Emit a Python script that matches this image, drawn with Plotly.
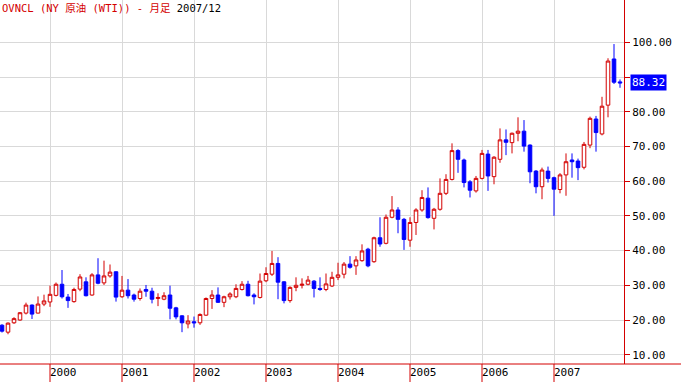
import plotly.graph_objects as go

# Monthly candles, May 1999 .. Dec 2007
months = [f"{y}-{m:02d}" for y in range(1999, 2008) for m in range(1, 13)][4:]

opens = [18.5, 16.5, 19.2, 20.0, 22.0, 24.3, 22.0, 24.6,
         25.2, 27.1, 30.3, 26.6, 25.3, 28.9, 31.0, 27.2, 33.0, 30.7, 32.7, 33.9,
         26.7, 28.6, 27.2, 26.2, 28.8, 28.3, 26.2, 26.0, 27.2, 23.5, 21.2, 18.9,
         19.5, 19.2, 21.4, 26.2, 27.2, 25.1, 26.7, 26.7, 28.8, 30.3, 27.2, 26.5,
         31.3, 33.2, 36.3, 31.0, 25.6, 29.4, 30.0, 30.3, 31.2, 29.1, 28.8, 29.8,
         32.3, 33.2, 36.1, 35.6, 37.1, 40.4, 36.8, 43.7, 42.1, 49.6, 51.7, 49.0,
         43.0, 48.1, 51.7, 55.1, 49.3, 51.9, 56.5, 60.5, 68.8, 66.1, 59.8, 57.2,
         60.8, 67.8, 61.3, 66.3, 71.9, 71.1, 73.8, 74.4, 70.4, 62.9, 58.4, 62.9,
         61.0, 57.6, 61.8, 66.1, 65.8, 64.0, 70.4, 77.9, 73.6, 81.9, 95.2, 88.6]

closes = [16.8, 19.1, 20.4, 22.1, 24.3, 21.7, 24.6, 25.5,
          27.4, 30.3, 26.7, 25.6, 28.8, 32.4, 27.0, 33.0, 30.6, 32.7, 33.8, 26.6,
          28.6, 27.0, 26.0, 28.3, 28.3, 26.0, 26.5, 27.0, 23.4, 20.9, 19.2, 19.7,
          19.2, 21.6, 26.2, 27.2, 25.1, 26.7, 27.5, 29.1, 30.3, 27.0, 26.7, 31.2,
          33.4, 36.3, 30.9, 25.6, 29.4, 30.0, 30.3, 31.5, 29.1, 28.8, 30.4, 32.3,
          33.0, 36.1, 35.2, 37.3, 39.9, 35.6, 43.7, 41.9, 49.6, 51.7, 49.0, 43.2,
          48.1, 51.7, 55.3, 49.5, 51.9, 56.5, 60.5, 68.8, 66.3, 59.6, 57.4, 60.8,
          68.0, 61.5, 66.9, 71.9, 71.2, 73.8, 74.4, 70.1, 62.7, 58.4, 63.2, 60.8,
          57.7, 61.8, 65.6, 65.6, 63.9, 70.6, 78.1, 74.0, 81.6, 94.6, 88.5, 88.32]

highs = [18.8, 19.3, 20.8, 22.3, 25.0, 24.5, 26.8, 27.3,
         29.9, 30.8, 34.4, 27.5, 29.3, 33.2, 32.3, 33.5, 37.8, 37.1, 36.0, 34.0,
         32.7, 31.8, 27.6, 29.1, 30.1, 29.3, 27.7, 28.0, 29.9, 23.8, 21.4, 21.4,
         21.0, 21.9, 26.5, 28.6, 29.4, 27.0, 28.0, 30.3, 31.2, 31.3, 27.7, 33.4,
         35.2, 39.9, 38.1, 31.2, 29.7, 32.3, 32.0, 32.7, 31.5, 32.3, 33.4, 33.9,
         36.5, 36.7, 38.4, 38.4, 41.8, 40.8, 44.0, 49.6, 50.4, 55.7, 52.5, 49.4,
         49.6, 52.2, 57.4, 58.2, 52.3, 60.8, 62.0, 70.9, 69.2, 66.5, 60.3, 61.5,
         69.0, 69.0, 67.2, 75.2, 74.9, 74.0, 78.4, 77.6, 70.6, 63.2, 63.9, 64.2,
         61.3, 62.3, 68.0, 68.0, 66.5, 71.3, 78.6, 78.8, 84.3, 95.4, 99.5, 89.3]

lows = [16.4, 15.9, 18.9, 19.8, 21.6, 20.3, 21.9, 24.0,
        23.8, 26.8, 26.2, 23.5, 25.0, 28.3, 26.8, 27.0, 30.3, 30.1, 32.2, 25.3,
        26.4, 26.2, 25.3, 25.6, 26.7, 24.8, 24.0, 25.7, 20.2, 20.2, 16.5, 17.6,
        17.8, 18.6, 21.2, 23.2, 24.9, 23.7, 25.9, 26.3, 28.5, 26.8, 24.5, 26.2,
        30.9, 32.7, 26.0, 24.8, 25.0, 28.3, 29.1, 30.0, 26.5, 28.4, 28.3, 29.5,
        31.5, 32.0, 34.8, 33.0, 36.8, 35.2, 36.5, 41.1, 41.8, 49.3, 45.0, 40.2,
        41.1, 44.5, 51.2, 49.2, 46.1, 51.5, 56.0, 60.2, 62.4, 58.2, 55.3, 56.7,
        60.5, 57.2, 59.1, 65.3, 67.5, 68.0, 71.5, 68.5, 59.4, 56.5, 54.8, 59.6,
        50.0, 56.5, 55.8, 61.0, 60.3, 63.4, 69.5, 68.5, 73.2, 78.4, 88.0, 86.9]

price_ticks = [10, 20, 30, 40, 50, 60, 70, 80, 90, 100]
last_price = 88.32
title_main = "OVNCL (NY 原油 (WTI)) - 月足 "
title_date = "2007/12"

RED = "#d40000"
BLUE = "#0000ff"
MONO = "DejaVu Sans Mono, Noto Sans CJK JP"

xidx = list(range(len(months)))
year_pos = [i for i, m in enumerate(months) if m.endswith("-01")]
year_txt = [months[i][:4] for i in year_pos]

# the 90.00 label sits under the last-price box in the reference
price_txt = ["" if abs(v - last_price) < 3 else f"{v:.2f}" for v in price_ticks]

fig = go.Figure(go.Candlestick(
    x=xidx, open=opens, high=highs, low=lows, close=closes,
    increasing=dict(line=dict(color=RED, width=1), fillcolor="white"),
    decreasing=dict(line=dict(color=BLUE, width=1), fillcolor=BLUE),
    whiskerwidth=0, hoverinfo="skip",
))

shapes = [dict(type="line", xref="paper", yref="paper",
               x0=0, x1=681/624, y0=0, y1=0,
               line=dict(color=RED, width=1))]
for p in year_pos:
    shapes.append(dict(type="line", xref="x", yref="paper",
                       x0=p, x1=p, y0=0, y1=-18/364,
                       line=dict(color=RED, width=1)))

fig.update_layout(
    width=681, height=382,
    margin=dict(l=0, r=57, t=0, b=18, autoexpand=False),
    paper_bgcolor="white", plot_bgcolor="white",
    showlegend=False, boxgap=0.15,
    xaxis=dict(
        range=[-1/3, len(months) - 1 + 2/3],
        rangeslider=dict(visible=False),
        tickmode="array", tickvals=year_pos, ticktext=year_txt,
        showgrid=True, gridcolor="#d9d9d9", gridwidth=1,
        ticks="", ticklabelposition="outside right",
        tickfont=dict(family=MONO, size=11, color="black"),
        showline=False, zeroline=False, fixedrange=True, automargin=False,
    ),
    yaxis=dict(
        side="right", range=[7.33, 112.19],
        tickmode="array", tickvals=price_ticks, ticktext=price_txt,
        showgrid=True, gridcolor="#d9d9d9", gridwidth=1,
        ticks="outside", ticklen=5, tickcolor=RED, tickwidth=1,
        tickfont=dict(family=MONO, size=11, color="black"),
        showline=True, linecolor=RED, linewidth=1, mirror=False,
        zeroline=False, fixedrange=True, automargin=False,
    ),
    shapes=shapes,
    annotations=[
        dict(xref="paper", yref="paper", x=0, y=1, xanchor="left", yanchor="top",
             showarrow=False, borderpad=1,
             text=f"<span style='color:{RED}'>{title_main}</span>"
                  f"<span style='color:black'>{title_date}</span>",
             font=dict(family=MONO, size=10.5)),
        dict(xref="paper", yref="y", x=1, y=last_price, xanchor="left",
             yanchor="middle", xshift=6, showarrow=False,
             text=f"{last_price:.2f}", bgcolor=BLUE, borderpad=1,
             font=dict(family=MONO, size=11, color="white")),
    ],
)

fig.write_html("out.html",
               config={"displayModeBar": False},
               post_script="document.body.style.margin='0';"
                           "document.body.style.overflow='hidden';")
